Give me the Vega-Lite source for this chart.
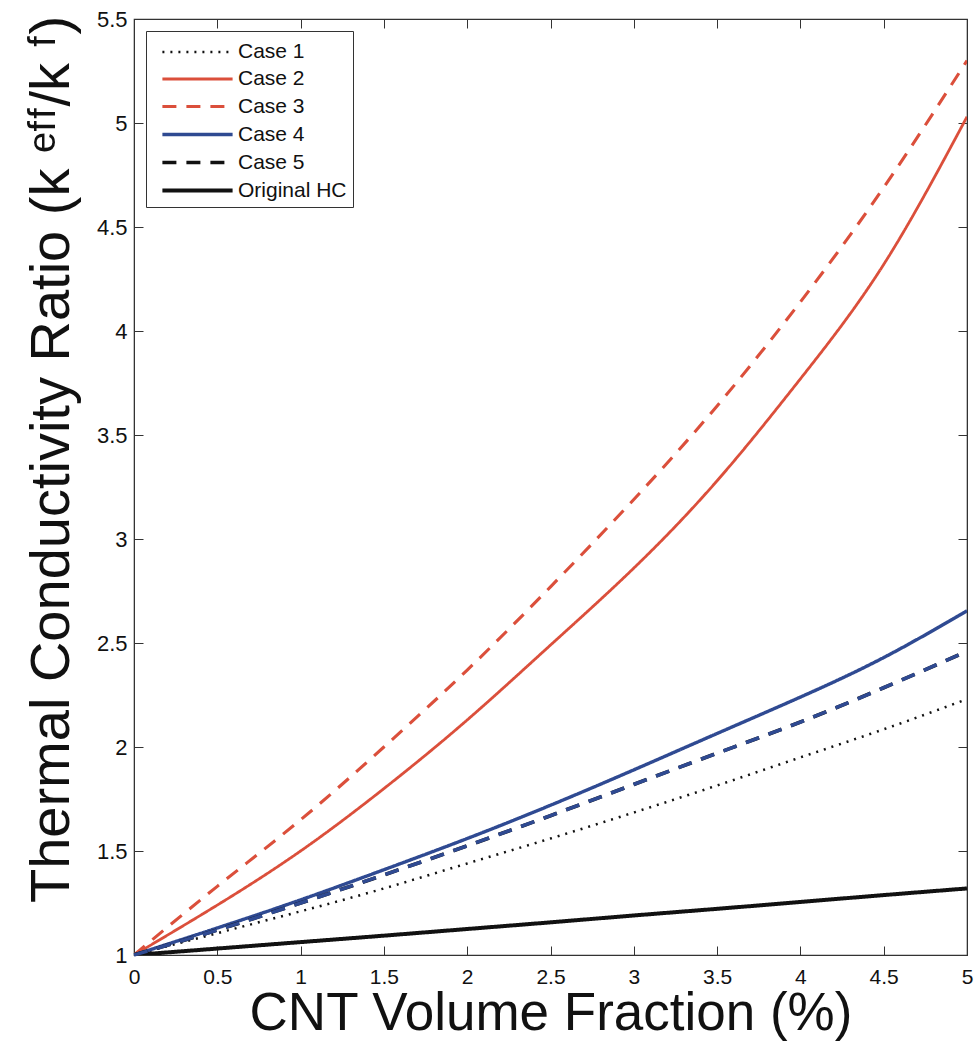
{
  "$schema": "https://vega.github.io/schema/vega-lite/v6.json",
  "width": 833,
  "height": 936,
  "autosize": {"type": "none"},
  "padding": {"left": 134, "top": 19, "right": 10, "bottom": 88},
  "background": "white",
  "config": {
    "font": "Liberation Sans",
    "view": {"stroke": "#333", "strokeWidth": 1.2},
    "axis": {"grid": false, "domainColor": "#333", "tickColor": "#333", "labelColor": "#111", "titleColor": "#111", "titleFontWeight": "normal", "labelFont": "Liberation Sans", "titleFont": "Liberation Sans"}
  },
  "data": {
    "values": [
      {"series": "Case 1", "x": 0, "y": 1.0}, {"series": "Case 1", "x": 0.5, "y": 1.105}, {"series": "Case 1", "x": 1, "y": 1.21}, {"series": "Case 1", "x": 1.5, "y": 1.32}, {"series": "Case 1", "x": 2, "y": 1.44}, {"series": "Case 1", "x": 2.5, "y": 1.56}, {"series": "Case 1", "x": 3, "y": 1.685}, {"series": "Case 1", "x": 3.5, "y": 1.815}, {"series": "Case 1", "x": 4, "y": 1.95}, {"series": "Case 1", "x": 4.5, "y": 2.085}, {"series": "Case 1", "x": 5, "y": 2.23},
      {"series": "Case 2", "x": 0, "y": 1.0}, {"series": "Case 2", "x": 0.5, "y": 1.24}, {"series": "Case 2", "x": 1, "y": 1.5}, {"series": "Case 2", "x": 1.5, "y": 1.8}, {"series": "Case 2", "x": 2, "y": 2.13}, {"series": "Case 2", "x": 2.5, "y": 2.49}, {"series": "Case 2", "x": 3, "y": 2.86}, {"series": "Case 2", "x": 3.5, "y": 3.28}, {"series": "Case 2", "x": 4, "y": 3.77}, {"series": "Case 2", "x": 4.5, "y": 4.32}, {"series": "Case 2", "x": 5, "y": 5.03},
      {"series": "Case 3", "x": 0, "y": 1.0}, {"series": "Case 3", "x": 0.5, "y": 1.33}, {"series": "Case 3", "x": 1, "y": 1.65}, {"series": "Case 3", "x": 1.5, "y": 2.0}, {"series": "Case 3", "x": 2, "y": 2.37}, {"series": "Case 3", "x": 2.5, "y": 2.77}, {"series": "Case 3", "x": 3, "y": 3.19}, {"series": "Case 3", "x": 3.5, "y": 3.64}, {"series": "Case 3", "x": 4, "y": 4.14}, {"series": "Case 3", "x": 4.5, "y": 4.69}, {"series": "Case 3", "x": 5, "y": 5.3},
      {"series": "Case 4", "x": 0, "y": 1.0}, {"series": "Case 4", "x": 0.5, "y": 1.13}, {"series": "Case 4", "x": 1, "y": 1.265}, {"series": "Case 4", "x": 1.5, "y": 1.41}, {"series": "Case 4", "x": 2, "y": 1.56}, {"series": "Case 4", "x": 2.5, "y": 1.72}, {"series": "Case 4", "x": 3, "y": 1.89}, {"series": "Case 4", "x": 3.5, "y": 2.065}, {"series": "Case 4", "x": 4, "y": 2.24}, {"series": "Case 4", "x": 4.5, "y": 2.43}, {"series": "Case 4", "x": 5, "y": 2.655},
      {"series": "Case 5", "x": 0, "y": 1.0}, {"series": "Case 5", "x": 0.5, "y": 1.12}, {"series": "Case 5", "x": 1, "y": 1.25}, {"series": "Case 5", "x": 1.5, "y": 1.385}, {"series": "Case 5", "x": 2, "y": 1.525}, {"series": "Case 5", "x": 2.5, "y": 1.67}, {"series": "Case 5", "x": 3, "y": 1.82}, {"series": "Case 5", "x": 3.5, "y": 1.97}, {"series": "Case 5", "x": 4, "y": 2.12}, {"series": "Case 5", "x": 4.5, "y": 2.285}, {"series": "Case 5", "x": 5, "y": 2.46},
      {"series": "Original HC", "x": 0, "y": 1.0}, {"series": "Original HC", "x": 0.5, "y": 1.031}, {"series": "Original HC", "x": 1, "y": 1.062}, {"series": "Original HC", "x": 1.5, "y": 1.093}, {"series": "Original HC", "x": 2, "y": 1.125}, {"series": "Original HC", "x": 2.5, "y": 1.157}, {"series": "Original HC", "x": 3, "y": 1.19}, {"series": "Original HC", "x": 3.5, "y": 1.222}, {"series": "Original HC", "x": 4, "y": 1.255}, {"series": "Original HC", "x": 4.5, "y": 1.288}, {"series": "Original HC", "x": 5, "y": 1.32}
    ]
  },
  "layer": [
    {
      "mark": {"type": "line", "interpolate": "natural", "clip": true},
      "encoding": {
        "x": {"field": "x", "type": "quantitative", "scale": {"domain": [0, 5], "nice": false},
          "axis": {"orient": "bottom", "values": [0, 0.5, 1, 1.5, 2, 2.5, 3, 3.5, 4, 4.5, 5], "format": "~g", "tickSize": -9, "labelFontSize": 21, "labelPadding": 20, "labelFlush": false, "title": "CNT Volume Fraction (%)", "titleFontSize": 53, "titlePadding": 0}},
        "y": {"field": "y", "type": "quantitative", "scale": {"domain": [1, 5.5], "nice": false, "zero": false},
          "axis": {"orient": "left", "values": [1, 1.5, 2, 2.5, 3, 3.5, 4, 4.5, 5, 5.5], "format": "~g", "tickSize": -9, "labelFontSize": 22, "labelPadding": 16, "labelFlush": false, "title": "Thermal Conductivity Ratio (k ᵉᶠᶠ/k ᶠ)", "titleFontSize": 56, "titlePadding": 16, "titleY": 440}},
        "color": {"field": "series", "type": "nominal",
          "scale": {"domain": ["Case 1", "Case 2", "Case 3", "Case 4", "Case 5", "Original HC"], "range": ["#111111", "#db4f3b", "#db4f3b", "#2f4a92", "#111111", "#111111"]},
          "legend": {"orient": "top-left", "offset": 12, "title": null, "symbolType": "M-2.6,0H2.6", "symbolSize": 729, "symbolStrokeWidth": 4, "symbolFillColor": "transparent", "symbolOffset": 30, "labelFontSize": 21, "labelColor": "#111", "strokeColor": "#333", "fillColor": "white", "padding": 6, "rowPadding": 2, "labelOffset": 25}},
        "strokeDash": {"field": "series", "type": "nominal",
          "scale": {"domain": ["Case 1", "Case 2", "Case 3", "Case 4", "Case 5", "Original HC"], "range": [[2, 6], [1, 0], [14, 10], [1, 0], [14, 10], [1, 0]]}},
        "strokeWidth": {"field": "series", "type": "nominal",
          "scale": {"domain": ["Case 1", "Case 2", "Case 3", "Case 4", "Case 5", "Original HC"], "range": [2.5, 4, 4.5, 4, 4.5, 4.5]}, "legend": null}
      }
    },
    {
      "transform": [{"filter": "datum.series == 'Case 5'"}],
      "mark": {"type": "line", "interpolate": "natural", "color": "#2f4a92", "strokeDash": [14, 10], "strokeWidth": 3.5},
      "encoding": {
        "x": {"field": "x", "type": "quantitative", "axis": {"orient": "top", "values": [0, 0.5, 1, 1.5, 2, 2.5, 3, 3.5, 4, 4.5, 5], "labels": false, "tickSize": -9, "title": null}},
        "y": {"field": "y", "type": "quantitative", "axis": {"orient": "right", "values": [1, 1.5, 2, 2.5, 3, 3.5, 4, 4.5, 5, 5.5], "labels": false, "tickSize": -9, "title": null}}
      }
    }
  ],
  "resolve": {"axis": {"x": "independent", "y": "independent"}}
}
